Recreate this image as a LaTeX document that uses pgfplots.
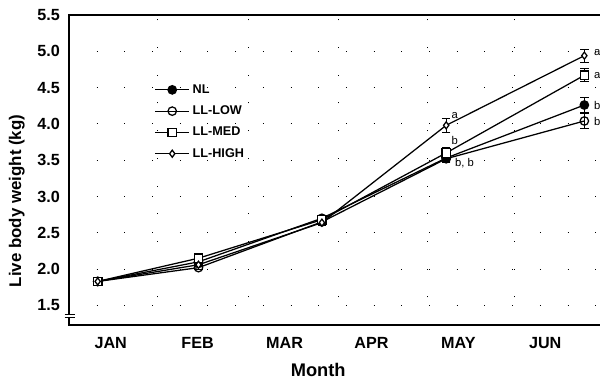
\documentclass[border=0pt]{standalone}
\usepackage{pgfplots}
\pgfplotsset{compat=1.18}
\usepackage{fontspec}
\setmainfont{Liberation Sans}
\begin{document}
\begin{tikzpicture}
\begin{axis}[
  at={(1.725cm,1.425cm)}, anchor=south west,
  scale only axis, width=13.34cm, height=7.75cm,
  xmin=-0.48, xmax=5.66, ymin=1.23, ymax=5.5,
  clip=false,
  axis line style={line width=1pt},
  xtick={0,1,2,3,4,5},
  xticklabels={JAN,FEB,MAR,APR,MAY,JUN},
  ytick={1.5,2.0,2.5,3.0,3.5,4.0,4.5,5.0,5.5},
  /pgf/number format/assume math mode=true,
  yticklabel={\pgfmathprintnumber[fixed,fixed zerofill,precision=1]{\tick}},
  major tick length=0pt,
  tick label style={font=\bfseries\fontsize{11.5}{11.5}\selectfont},
  xticklabel style={anchor=north, inner sep=0pt, yshift=-0.29cm},
  yticklabel style={anchor=east, inner sep=0pt, xshift=-0.22cm},
  ymajorgrids,
  major grid style={black, line width=0.7pt, dash pattern=on 0.7pt off 19pt},
  extra x ticks={0.54,1.58,2.62,3.64,4.65},
  extra x tick labels={},
  extra x tick style={xmajorgrids, major grid style={black, line width=0.7pt, dash pattern=on 0.7pt off 19pt}},
  xlabel={Month},
  xlabel style={font=\bfseries\fontsize{13}{13}\selectfont, at={(axis description cs:0.467,0)}, anchor=center, yshift=-1.125cm},
  ylabel={Live body weight (kg)},
  ylabel style={font=\bfseries\fontsize{12}{12}\selectfont, at={(axis description cs:-0.098,0.40)}, anchor=center},
  legend style={draw=none, fill=none, at={(axis description cs:0.152,0.795)}, anchor=north west,
    font=\bfseries\fontsize{9}{9}\selectfont, row sep=3.4pt},
  legend cell align=left,
  legend image code/.code={\draw[mark repeat=2,mark phase=2] plot coordinates {(0cm,0cm) (0.425cm,0cm) (0.85cm,0cm)};},
  cycle list={{black},{black},{black},{black}},
  every axis plot/.append style={line width=0.9pt},
  error bars/y dir=both, error bars/y explicit,
  error bars/error mark options={rotate=90, mark size=3pt, line width=0.8pt},
  error bars/error bar style={line width=0.8pt},
]
\addplot+[black, mark=*, mark size=3pt, mark options={fill=black, solid}] coordinates {
 (-0.15,1.83) +- (0,0.02)
 (1.01,2.10) +- (0,0.03)
 (2.43,2.70) +- (0,0.04)
 (3.86,3.53) +- (0,0.05)
 (5.45,4.26) +- (0,0.10)
};
\addlegendentry{NL}
\addplot+[black, mark=o, mark size=3pt, mark options={fill=white, solid}] coordinates {
 (-0.15,1.83) +- (0,0.02)
 (1.01,2.02) +- (0,0.03)
 (2.43,2.65) +- (0,0.04)
 (3.86,3.52) +- (0,0.05)
 (5.45,4.04) +- (0,0.10)
};
\addlegendentry{LL-LOW}
\addplot+[black, mark=square*, mark size=3pt, mark options={fill=white, solid}] coordinates {
 (-0.15,1.83) +- (0,0.02)
 (1.01,2.15) +- (0,0.03)
 (2.43,2.68) +- (0,0.04)
 (3.86,3.60) +- (0,0.07)
 (5.45,4.67) +- (0,0.09)
};
\addlegendentry{LL-MED}
\addplot+[black, mark=diamond*, mark size=2.5pt, mark options={fill=white, solid}] coordinates {
 (-0.15,1.83) +- (0,0.02)
 (1.01,2.06) +- (0,0.03)
 (2.43,2.64) +- (0,0.04)
 (3.86,3.98) +- (0,0.10)
 (5.45,4.94) +- (0,0.09)
};
\addlegendentry{LL-HIGH}
% annotations
\node[font=\fontsize{8}{8}\selectfont, anchor=west, inner sep=0pt] at (axis cs:5.56,4.98) {a};
\node[font=\fontsize{8}{8}\selectfont, anchor=west, inner sep=0pt] at (axis cs:5.56,4.67) {a};
\node[font=\fontsize{8}{8}\selectfont, anchor=west, inner sep=0pt] at (axis cs:5.56,4.26) {b};
\node[font=\fontsize{8}{8}\selectfont, anchor=west, inner sep=0pt] at (axis cs:5.56,4.04) {b};
\node[font=\fontsize{8}{8}\selectfont, anchor=west, inner sep=0pt] at (axis cs:3.92,4.12) {a};
\node[font=\fontsize{8}{8}\selectfont, anchor=west, inner sep=0pt] at (axis cs:3.92,3.77) {b};
\node[font=\fontsize{8}{8}\selectfont, anchor=west, inner sep=0pt] at (axis cs:3.96,3.46) {b, b};
% axis break
\fill[white] (axis cs:-0.50,1.33) rectangle (axis cs:-0.46,1.375);
\draw[line width=0.8pt] (axis cs:-0.53,1.375) -- (axis cs:-0.41,1.375);
\draw[line width=0.8pt] (axis cs:-0.53,1.33) -- (axis cs:-0.41,1.33);
\end{axis}
\pgfresetboundingbox
\useasboundingbox (0,0) rectangle (15cm,9.55cm);
\end{tikzpicture}
\end{document}
